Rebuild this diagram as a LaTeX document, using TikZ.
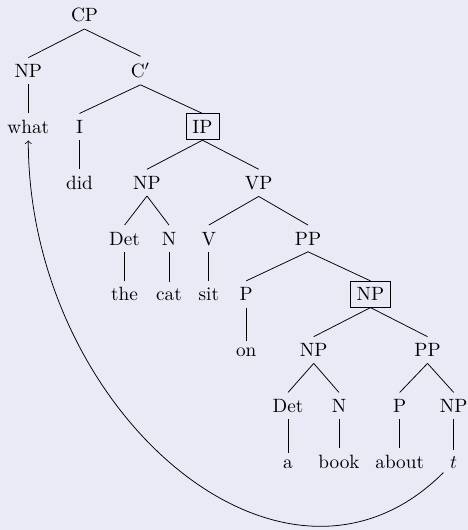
\documentclass[tikz,border=0pt]{standalone}
\definecolor{bgc}{RGB}{234,234,246}
\begin{document}
\begin{tikzpicture}[x=0.52pt,y=-0.52pt,
  lbl/.style={anchor=base},
  bx/.style={anchor=base,draw},
  br/.style={line width=0.4pt}]
\fill[bgc] (0,0) rectangle (468,530);
\useasboundingbox (0,0) rectangle (468,530);
% row 0
\node[lbl] (cp) at (84.5,21.8) {CP};
% row 1
\node[lbl] (np1) at (28.3,77.6) {NP};
\node[lbl] (cbar) at (140.5,77.6) {C$'$};
% row 2
\node[lbl] (what) at (28.3,133.4) {what};
\node[lbl] (i) at (79.5,133.4) {I};
\node[bx] (ip) at (202.5,133.4) {IP};
% row 3
\node[lbl] (did) at (79.5,189.2) {did};
\node[lbl] (np2) at (147,189.2) {NP};
\node[lbl] (vp) at (258.7,189.2) {VP};
% row 4
\node[lbl] (det1) at (124.6,245) {Det};
\node[lbl] (n1) at (169,245) {N};
\node[lbl] (v) at (208.8,245) {V};
\node[lbl] (pp1) at (308,245) {PP};
% row 5
\node[lbl] (the) at (124.6,300.8) {the};
\node[lbl] (cat) at (169,300.8) {cat};
\node[lbl] (sit) at (208.8,300.8) {sit};
\node[lbl] (p1) at (246.2,300.8) {P};
\node[bx] (np3) at (370.5,300.8) {NP};
% row 6
\node[lbl] (on) at (246.2,356.6) {on};
\node[lbl] (np4) at (313.7,356.6) {NP};
\node[lbl] (pp2) at (427.5,356.6) {PP};
% row 7
\node[lbl] (det2) at (288,412.4) {Det};
\node[lbl] (n2) at (339,412.4) {N};
\node[lbl] (p2) at (399.7,412.4) {P};
\node[lbl] (np5) at (453.7,412.4) {NP};
% row 8
\node[lbl] (a) at (288,468.2) {a};
\node[lbl] (book) at (339,468.2) {book};
\node[lbl] (about) at (399.7,468.2) {about};
\node[lbl] (t) at (453.7,468.2) {$t$};
% branches
\foreach \u/\w in {cp/np1,cp/cbar,np1/what,cbar/i,cbar/ip,i/did,ip/np2,ip/vp,
  np2/det1,np2/n1,det1/the,n1/cat,vp/v,vp/pp1,v/sit,pp1/p1,pp1/np3,p1/on,
  np3/np4,np3/pp2,np4/det2,np4/n2,pp2/p2,pp2/np5,det2/a,n2/book,p2/about,np5/t}
  \draw[br] (\u.south) -- (\w.north);
% movement arrow
\draw[br,->] (t) .. controls +(-170,170) and +(0,284) .. (what);
\end{tikzpicture}
\end{document}
